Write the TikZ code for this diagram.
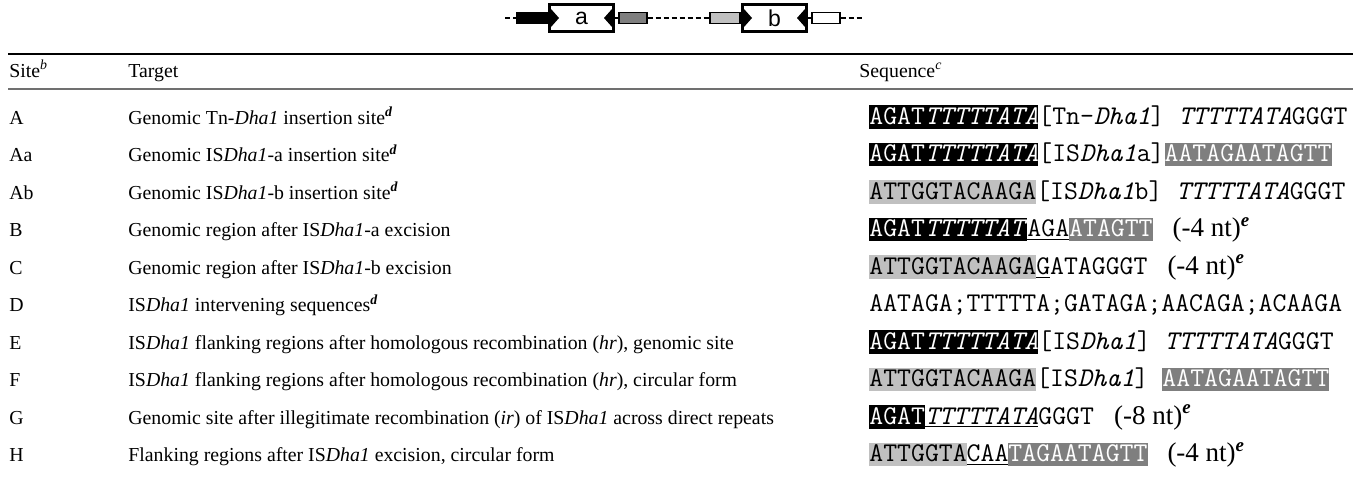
\documentclass[tikz,border=0pt]{standalone}
\usepackage{fontspec}
\setmainfont{Liberation Serif}
\newfontfamily\mapfont{Liberation Sans}
\usepackage{tikz}
\usetikzlibrary{positioning}
\definecolor{darkgr}{HTML}{7F7F7F}
\definecolor{lightgr}{HTML}{C0C0C0}
\definecolor{rulegr}{HTML}{707070}
% shaded stretch of sequence, width of the letters only
\newcommand\hl[3]{\setbox0=\hbox{#3}\rlap{\color{#1}\rule[-2.4pt]{\wd0}{11.8pt}}{\color{#2}\box0}}
\newcommand\nt[1]{\hspace{10pt}{\rmfamily\fontsize{13.5}{14}\selectfont (#1 nt)\textsuperscript{\textbf{\textit{e}}}}}
\tikzset{node distance=4cm, auto}

\begin{document}
\begin{tikzpicture}[x=0.5pt,y=-0.5pt,
	cell/.style={anchor=base west, inner sep=0pt, font=\fontsize{9.9}{12}\selectfont},
	seq/.style={anchor=base west, inner sep=0pt, font=\ttfamily\fontsize{13.5}{15}\selectfont},
	elem/.style={draw, line width=0.6pt, minimum height=5.5pt, inner sep=0pt},
	link/.style={line width=0.6pt, dash pattern=on 2.5pt off 1.5pt},
	isframe/.style={fill=black, minimum width=33.5pt, minimum height=15pt, inner sep=0pt,
		font=\mapfont\fontsize{11.5}{12}\selectfont,
		path picture={
			\fill[white] ([xshift=1.5pt,yshift=-1.5pt]path picture bounding box.north west) rectangle ([xshift=-1.5pt,yshift=1.5pt]path picture bounding box.south east);
			\fill ([xshift=1.5pt,yshift=-3pt]path picture bounding box.north west) -- ([xshift=1.5pt,yshift=3pt]path picture bounding box.south west) -- ([xshift=5.5pt]path picture bounding box.west) -- cycle;
			\fill ([xshift=-1.5pt,yshift=-3pt]path picture bounding box.north east) -- ([xshift=-1.5pt,yshift=3pt]path picture bounding box.south east) -- ([xshift=-5.5pt]path picture bounding box.east) -- cycle;
		}}]
	\useasboundingbox (0,0) rectangle (1367,482);
	% map of the two copies
	\coordinate (lend) at (505,18);
	\coordinate (rend) at (862,18);
	\node[elem, fill=black, minimum width=15pt](blkA) at (532,18){};
	\node[isframe](boxa) at (581.5,18){a};
	\node[elem, fill=darkgr, minimum width=14pt](grA) at (633,18){};
	\node[elem, fill=lightgr, minimum width=15pt](grB) at (725,18){};
	\node[isframe](boxb) at (774.5,18){b};
	\node[elem, fill=white, minimum width=14pt](whB) at (826,18){};
	\draw[link](lend) -- (blkA);
	\draw[link](boxa) -- (grA);
	\draw[link](grA) -- (grB);
	\draw[link](boxb) -- (whB);
	\draw[link](whB) -- (rend);
	% rules
	\draw[line width=1.3pt](8,54) -- (1353,54);
	\draw[line width=1.1pt, rulegr](8,89) -- (1353,89);
	% header
	\node[cell](hSite) at (9,77){Site\textsuperscript{\textit{b}}};
	\node[cell](hTarget) at (128,77){Target};
	\node[cell](hSeq) at (859,77){Sequence\textsuperscript{\textit{c}}};
	% rows
	\node[cell](siteA) at (9,124){A};
	\node[cell](tgtA) at (128,124){Genomic Tn-\textit{Dha1} insertion site\textsuperscript{\textbf{\textit{d}}}};
	\node[seq](seqA) at (869,124){\hl{black}{white}{AGAT\textit{TTTTTATA}}[Tn-\textit{Dha1}] \textit{TTTTTATA}GGGT};
	\node[cell](siteAa) at (9,161.5){Aa};
	\node[cell](tgtAa) at (128,161.5){Genomic IS\textit{Dha1}-a insertion site\textsuperscript{\textbf{\textit{d}}}};
	\node[seq](seqAa) at (869,161.5){\hl{black}{white}{AGAT\textit{TTTTTATA}}[IS\textit{Dha1}a]\hl{darkgr}{white}{AATAGAATAGTT}};
	\node[cell](siteAb) at (9,199){Ab};
	\node[cell](tgtAb) at (128,199){Genomic IS\textit{Dha1}-b insertion site\textsuperscript{\textbf{\textit{d}}}};
	\node[seq](seqAb) at (869,199){\hl{lightgr}{black}{ATTGGTACAAGA}[IS\textit{Dha1}b] \textit{TTTTTATA}GGGT};
	\node[cell](siteB) at (9,236.5){B};
	\node[cell](tgtB) at (128,236.5){Genomic region after IS\textit{Dha1}-a excision};
	\node[seq](seqB) at (869,236.5){\hl{black}{white}{AGAT\textit{TTTTTAT}}\underline{AGA}\hl{darkgr}{white}{ATAGTT}\nt{-4}};
	\node[cell](siteC) at (9,274){C};
	\node[cell](tgtC) at (128,274){Genomic region after IS\textit{Dha1}-b excision};
	\node[seq](seqC) at (869,274){\hl{lightgr}{black}{ATTGGTACAAGA}\underline{G}ATAGGGT\nt{-4}};
	\node[cell](siteD) at (9,311.5){D};
	\node[cell](tgtD) at (128,311.5){IS\textit{Dha1} intervening sequences\textsuperscript{\textbf{\textit{d}}}};
	\node[seq](seqD) at (869,311.5){AATAGA;TTTTTA;GATAGA;AACAGA;ACAAGA};
	\node[cell](siteE) at (9,349){E};
	\node[cell](tgtE) at (128,349){IS\textit{Dha1} flanking regions after homologous recombination (\textit{hr}), genomic site};
	\node[seq](seqE) at (869,349){\hl{black}{white}{AGAT\textit{TTTTTATA}}[IS\textit{Dha1}] \textit{TTTTTATA}GGGT};
	\node[cell](siteF) at (9,386.5){F};
	\node[cell](tgtF) at (128,386.5){IS\textit{Dha1} flanking regions after homologous recombination (\textit{hr}), circular form};
	\node[seq](seqF) at (869,386.5){\hl{lightgr}{black}{ATTGGTACAAGA}[IS\textit{Dha1}] \hl{darkgr}{white}{AATAGAATAGTT}};
	\node[cell](siteG) at (9,424){G};
	\node[cell](tgtG) at (128,424){Genomic site after illegitimate recombination (\textit{ir}) of IS\textit{Dha1} across direct repeats};
	\node[seq](seqG) at (869,424){\hl{black}{white}{AGAT}\underline{\textit{TTTTTATA}}GGGT\nt{-8}};
	\node[cell](siteH) at (9,461.5){H};
	\node[cell](tgtH) at (128,461.5){Flanking regions after IS\textit{Dha1} excision, circular form};
	\node[seq](seqH) at (869,461.5){\hl{lightgr}{black}{ATTGGTA}\underline{CAA}\hl{darkgr}{white}{TAGAATAGTT}\nt{-4}};
\end{tikzpicture}
\end{document}
